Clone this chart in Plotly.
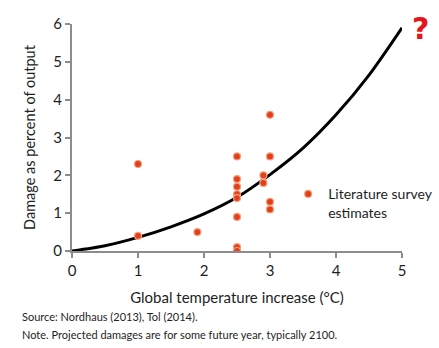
import plotly.graph_objects as go

# Literature survey estimates (temperature increase °C, damage % of output)
survey_temp = [1.0, 1.0, 1.9, 2.5, 2.5, 2.5, 2.5, 2.5, 2.5, 2.5, 2.5, 2.9, 2.9, 3.0, 3.0, 3.0, 3.0]
survey_damage = [2.3, 0.4, 0.5, 2.5, 1.9, 1.7, 1.5, 1.4, 0.9, 0.1, 0.0, 2.0, 1.8, 3.6, 2.5, 1.3, 1.1]

# Fitted damage curve
curve_temp = [0, 0.5, 1.0, 1.5, 2.0, 2.5, 3.0, 3.5, 4.0, 4.5, 5.0]
curve_damage = [0, 0.14, 0.36, 0.64, 0.98, 1.42, 2.02, 2.72, 3.6, 4.65, 5.9]

x_ticks = [0, 1, 2, 3, 4, 5]
y_ticks = [0, 1, 2, 3, 4, 5, 6]

FONT = "Lato"
TXT = "#1e1e1e"
AX = "#8c8c8c"

fig = go.Figure()
fig.add_trace(go.Scatter(
    x=curve_temp, y=curve_damage, mode="lines",
    line=dict(color="black", width=3, shape="spline", smoothing=0.8),
    showlegend=False, hoverinfo="skip"))
fig.add_trace(go.Scatter(
    x=survey_temp, y=survey_damage, mode="markers",
    name="Literature survey<br>estimates",
    marker=dict(color="#e2401a", size=7, line=dict(color="#f5a080", width=1.2))))

fig.update_layout(
    width=439, height=348,
    margin=dict(l=72, r=37, t=24, b=97, autoexpand=False),
    paper_bgcolor="white", plot_bgcolor="white",
    font=dict(family=FONT, size=15, color=TXT),
    xaxis=dict(range=[0, 5], tickvals=x_ticks, showgrid=False, zeroline=False,
               showline=True, linecolor=AX, linewidth=2, ticks="outside",
               tickcolor=AX, ticklen=5, tickwidth=1.5,
               tickfont=dict(size=15, color=TXT),
               title=dict(text="Global temperature increase (°C)",
                          font=dict(size=15, color=TXT), standoff=14)),
    yaxis=dict(range=[0, 6], tickvals=y_ticks, showgrid=False, zeroline=False,
               showline=True, linecolor=AX, linewidth=2, ticks="outside",
               tickcolor=AX, ticklen=5, tickwidth=1.5,
               tickfont=dict(size=15, color=TXT),
               title=dict(text="Damage as percent of output",
                          font=dict(size=14.5, color=TXT), standoff=14)),
    legend=dict(x=0.655, y=0.32, xanchor="left", yanchor="top",
                valign="top", bgcolor="rgba(0,0,0,0)",
                font=dict(size=14, color=TXT), itemwidth=30),
    annotations=[
        dict(text="?", xref="paper", yref="paper", x=1.0, y=1.0,
             xanchor="left", yanchor="bottom", showarrow=False, xshift=8, yshift=-24,
             font=dict(family="DejaVu Sans", size=30, color="#e8141c", weight="bold")),
        dict(text="Source: Nordhaus (2013), Tol (2014).", xref="paper", yref="paper",
             x=0, y=0, xanchor="left", yanchor="middle", showarrow=False,
             xshift=-52, yshift=-65, font=dict(size=11, color=TXT)),
        dict(text="Note. Projected damages are for some future year, typically 2100.",
             xref="paper", yref="paper",
             x=0, y=0, xanchor="left", yanchor="middle", showarrow=False,
             xshift=-52, yshift=-83, font=dict(size=11, color=TXT)),
    ],
)

fig.write_html("out.html")
